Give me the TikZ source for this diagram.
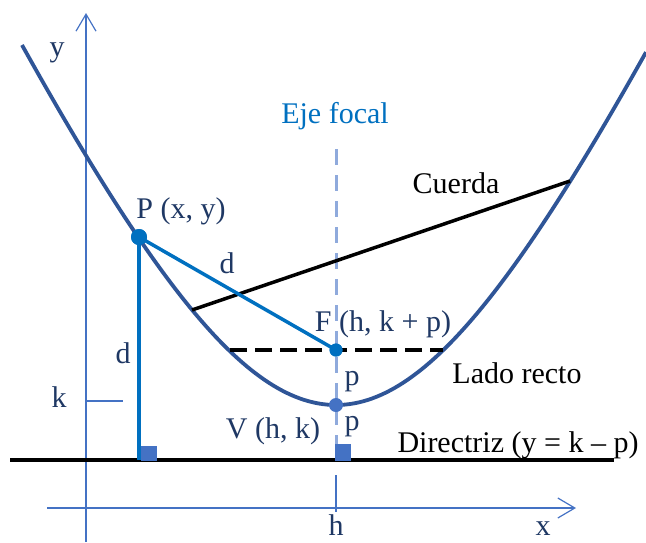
\documentclass[tikz,border=0pt]{standalone}
\usepackage{fontspec}
\setmainfont{Liberation Serif}
\usetikzlibrary{arrows.meta}
\definecolor{navytext}{RGB}{31,56,100}
\definecolor{curveblue}{RGB}{47,85,151}
\definecolor{pointblue}{RGB}{0,112,192}
\definecolor{midblue}{RGB}{68,114,196}
\definecolor{paleblue}{RGB}{143,170,220}

\begin{document}
\begin{tikzpicture}[x=1pt,y=-1pt,
  every node/.style={font=\fontsize{30}{34}\selectfont,text=navytext,anchor=base,inner sep=0pt},
  axisline/.style={draw=midblue,line width=1.2pt},
  axisarrow/.style={axisline,-{Straight Barb[length=17pt,width=20pt]}},
  dot/.style={circle,anchor=center,minimum size=#1},
  bluestroke/.style={draw=pointblue,line width=3.5pt},
  blackstroke/.style={draw=black,line width=3.5pt}]
\useasboundingbox (0,0) rectangle (646,542);
% axes
\coordinate (ybot) at (86,542); \coordinate (ytop) at (86,13);
\coordinate (xleft) at (47,508); \coordinate (xright) at (576,508);
\draw[axisarrow] (ybot) -- (ytop);
\draw[axisarrow] (xleft) -- (xright);
\coordinate (kl) at (86,401); \coordinate (kr) at (123,401);
\draw[axisline] (kl) -- (kr);
\coordinate (ht) at (336,475); \coordinate (hb) at (336,512);
\draw[axisline] (ht) -- (hb);
% eje focal y directriz
\coordinate (ejetop) at (336,149); \coordinate (ejebot) at (336,460);
\draw[draw=paleblue,line width=3pt,dash pattern=on 16pt off 10pt] (ejetop) -- (ejebot);
\coordinate (dirl) at (10,460); \coordinate (dirr) at (614,460);
\draw[blackstroke] (dirl) -- (dirr);
% parabola
\draw[curveblue,line width=3.8pt] plot[domain=22:646,samples=140] (\x,{405-467.5*(sqrt(1+((\x-336)/215)^2)-1)});
% cuerda y lado recto
\coordinate (cuerda1) at (192,310); \coordinate (cuerda2) at (570,181);
\draw[blackstroke] (cuerda1) -- (cuerda2);
\coordinate (lado1) at (230,350); \coordinate (lado2) at (443,350);
\draw[blackstroke,dash pattern=on 17pt off 8pt] (lado1) -- (lado2);
% puntos
\coordinate (Pd) at (139,460); \coordinate (Vd) at (336,460);
\fill[midblue] (141,446) rectangle (157,461);
\fill[midblue] (335,444) rectangle (351,461);
\node[dot=16pt,fill=pointblue] (P) at (139,237) {};
\node[dot=13pt,fill=pointblue] (F) at (336,350) {};
\node[dot=14pt,fill=midblue] (V) at (336,405) {};
\draw[bluestroke] (P.center) -- (Pd);
\draw[bluestroke] (P.center) -- (F.center);
\node[dot=16pt,fill=pointblue] at (P) {};
\node[dot=13pt,fill=pointblue] at (F) {};
% etiquetas
\node (ylab) at (57,56) {y};
\node (xlab) at (543,535) {x};
\node (hlab) at (336,535) {h};
\node (klab) at (59,407) {k};
\node (Plab) at (181,218) {P (x, y)};
\node (d1lab) at (227,273) {d};
\node (d2lab) at (123,363) {d};
\node (Flab) at (383,331) {F (h, k + p)};
\node (p1lab) at (352,385) {p};
\node (p2lab) at (352,430) {p};
\node (Vlab) at (273,438) {V (h, k)};
\node[text=pointblue] (ejelab) at (335,123) {Eje focal};
\node[text=black] (cuerdalab) at (456,193) {Cuerda};
\node[text=black] (ladolab) at (517,383) {Lado recto};
\node[text=black] (dirlab) at (518,452) {Directriz (y = k – p)};
\end{tikzpicture}
\end{document}
